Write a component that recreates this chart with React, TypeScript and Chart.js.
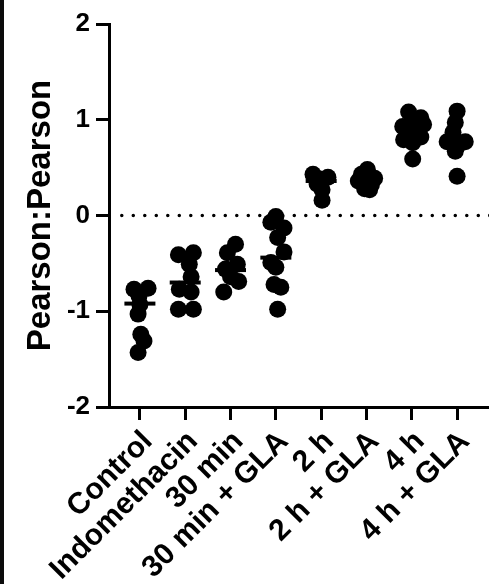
import { useEffect, useRef } from 'react';
import { Chart, registerables } from 'chart.js';

Chart.register(...registerables);

const categories = ['Control', 'Indomethacin', '30 min', '30 min + GLA', '2 h', '2 h + GLA', '4 h', '4 h + GLA'];

const control = [-0.76, -0.77, -0.84, -0.93, -1.03, -1.24, -1.31, -1.43];
const indomethacin = [-0.41, -0.39, -0.51, -0.64, -0.77, -0.8, -0.98, -0.98];
const min30 = [-0.3, -0.39, -0.51, -0.56, -0.64, -0.69, -0.8];
const min30Gla = [-0.01, -0.07, -0.13, -0.23, -0.38, -0.49, -0.54, -0.72, -0.75, -0.98];
const h2 = [0.43, 0.4, 0.38, 0.33, 0.27, 0.16];
const h2Gla = [0.48, 0.43, 0.39, 0.36, 0.32, 0.28, 0.27];
const h4 = [1.08, 1.02, 0.97, 0.95, 0.93, 0.85, 0.82, 0.79, 0.76, 0.59];
const h4Gla = [1.09, 0.97, 0.87, 0.77, 0.77, 0.72, 0.67, 0.41];

// horizontal spread of each point within its column, in category units
const controlSpread = [0.18, -0.13, -0.02, 0, -0.04, 0.02, 0.09, -0.04];
const indomethacinSpread = [-0.15, 0.18, 0.09, 0.13, -0.13, 0.13, -0.15, 0.18];
const min30Spread = [0.11, -0.07, 0.15, -0.11, 0, 0.18, -0.15];
const min30GlaSpread = [0, -0.11, 0.18, 0.04, 0.18, -0.11, 0, -0.04, 0.11, 0.04];
const h2Spread = [-0.18, 0.15, -0.02, -0.09, 0.02, 0.02];
const h2GlaSpread = [0.02, -0.11, 0.18, -0.18, 0.11, -0.04, 0.07];
const h4Spread = [-0.07, 0.2, 0.02, 0.26, -0.2, 0.04, 0.2, -0.18, 0.02, 0.02];
const h4GlaSpread = [0, -0.04, -0.09, -0.22, 0.18, 0, -0.04, 0];

const groupMeans = [-0.92, -0.7, -0.57, -0.44, 0.36, 0.37, 0.9, 0.79];
const yTickValues = [-2, -1, 0, 1, 2];

const groups = [control, indomethacin, min30, min30Gla, h2, h2Gla, h4, h4Gla];
const spreads = [controlSpread, indomethacinSpread, min30Spread, min30GlaSpread, h2Spread, h2GlaSpread, h4Spread, h4GlaSpread];

const FONT = '"Liberation Sans", Arial, Helvetica, sans-serif';

export default function App() {
  const ref = useRef<HTMLCanvasElement>(null);

  useEffect(() => {
    if (!ref.current) return;
    const points: { x: number; y: number }[] = [];
    groups.forEach((g, i) => g.forEach((v, j) => points.push({ x: i + spreads[i][j], y: v })));
    const meanPts = groupMeans.map((m, i) => ({ x: i, y: m }));

    const edgePlugin = {
      id: 'edge',
      beforeDraw(chart: any) {
        const ctx = chart.ctx;
        ctx.save();
        ctx.fillStyle = '#0b0b0b';
        ctx.fillRect(0, 0, 4, chart.height);
        ctx.restore();
      },
    };

    const chart = new Chart(ref.current, {
      type: 'scatter',
      data: {
        datasets: [
          {
            type: 'scatter',
            data: meanPts,
            pointStyle: 'line',
            pointRadius: 15.5,
            pointHoverRadius: 15.5,
            borderColor: '#000',
            backgroundColor: '#000',
            borderWidth: 4,
            order: 0,
          } as any,
          {
            type: 'scatter',
            data: points,
            pointRadius: 8.5,
            pointHoverRadius: 8.5,
            backgroundColor: '#000',
            borderColor: '#000',
            borderWidth: 0,
            order: 1,
          },
          {
            type: 'line',
            data: [
              { x: -0.4, y: 0 },
              { x: 7.75, y: 0 },
            ],
            borderColor: '#000',
            borderWidth: 3.5,
            borderDash: [0, 11.5],
            borderCapStyle: 'round',
            pointRadius: 0,
            showLine: true,
            order: 2,
          } as any,
        ],
      },
      options: {
        animation: false,
        responsive: true,
        maintainAspectRatio: false,
        layout: { autoPadding: false, padding: { top: 24, right: 0, left: 0, bottom: 0 } },
        plugins: { legend: { display: false }, tooltip: { enabled: false } },
        scales: {
          x: {
            type: 'linear',
            min: -0.682,
            max: 7.704,
            afterBuildTicks: (s: any) => {
              s.ticks = categories.map((_, i) => ({ value: i }));
            },
            afterFit: (s: any) => {
              s.height = 177;
              s.paddingLeft = 0;
              s.paddingRight = 0;
            },
            ticks: {
              autoSkip: false,
              minRotation: 45,
              maxRotation: 45,
              color: '#000',
              padding: 4,
              labelOffset: 8,
              font: { family: FONT, size: 30, weight: 'bold' },
              callback: (v: any) => categories[v] ?? '',
            },
            grid: { drawOnChartArea: false, drawTicks: true, tickLength: 13, tickWidth: 3, tickColor: '#000' },
            border: { display: true, color: '#000', width: 3 },
          },
          y: {
            type: 'linear',
            min: -2,
            max: 2,
            afterBuildTicks: (s: any) => {
              s.ticks = yTickValues.map((v) => ({ value: v }));
            },
            afterFit: (s: any) => {
              s.width = 109;
            },
            ticks: {
              color: '#000',
              padding: 6,
              font: { family: FONT, size: 26, weight: 'bold' },
              callback: (v: any) => String(v),
            },
            grid: { drawOnChartArea: false, drawTicks: true, tickLength: 13, tickWidth: 3, tickColor: '#000' },
            border: { display: true, color: '#000', width: 3 },
            title: {
              display: true,
              text: 'Pearson:Pearson',
              color: '#000',
              font: { family: FONT, size: 33, weight: 'bold', lineHeight: 1.2 },
              padding: { top: 21, bottom: 0 },
            },
          },
        },
      },
      plugins: [edgePlugin],
    } as any);

    return () => chart.destroy();
  }, []);

  return (
    <div style={{ position: 'fixed', left: 0, top: 0, width: 489, height: 584, background: '#fff' }}>
      <canvas ref={ref} />
    </div>
  );
}
